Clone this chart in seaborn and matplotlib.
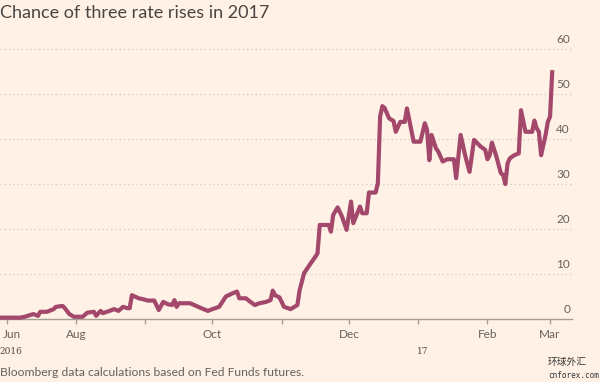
import matplotlib
matplotlib.use("Agg")
import matplotlib.pyplot as plt
import matplotlib.dates as mdates
import matplotlib.transforms as mtransforms
import pandas as pd
import seaborn as sns

# ---- data ----
dates = [
    "2016-06-28", "2016-07-07", "2016-07-09", "2016-07-13", "2016-07-15", "2016-07-16",
    "2016-07-19", "2016-07-20", "2016-07-22", "2016-07-23", "2016-07-26", "2016-07-27",
    "2016-07-29", "2016-07-31", "2016-08-04", "2016-08-06", "2016-08-09", "2016-08-10",
    "2016-08-12", "2016-08-13", "2016-08-16", "2016-08-18", "2016-08-20", "2016-08-22",
    "2016-08-24", "2016-08-25", "2016-08-26", "2016-08-29", "2016-08-31", "2016-09-02",
    "2016-09-05", "2016-09-07", "2016-09-09", "2016-09-11", "2016-09-13", "2016-09-14",
    "2016-09-15", "2016-09-16", "2016-09-21", "2016-09-27", "2016-09-29", "2016-10-01",
    "2016-10-04", "2016-10-07", "2016-10-10", "2016-10-12", "2016-10-13", "2016-10-16",
    "2016-10-18", "2016-10-20", "2016-10-22", "2016-10-25", "2016-10-27", "2016-10-28",
    "2016-10-29", "2016-10-31", "2016-11-02", "2016-11-05", "2016-11-08", "2016-11-09",
    "2016-11-11", "2016-11-14", "2016-11-16", "2016-11-17", "2016-11-18", "2016-11-22",
    "2016-11-23", "2016-11-24", "2016-11-26", "2016-11-28", "2016-11-30", "2016-12-02",
    "2016-12-03", "2016-12-06", "2016-12-07", "2016-12-09", "2016-12-10", "2016-12-13",
    "2016-12-14", "2016-12-15", "2016-12-16", "2016-12-17", "2016-12-19", "2016-12-21",
    "2016-12-22", "2016-12-24", "2016-12-26", "2016-12-27", "2016-12-30", "2017-01-02",
    "2017-01-04", "2017-01-05", "2017-01-06", "2017-01-07", "2017-01-09", "2017-01-10",
    "2017-01-12", "2017-01-14", "2017-01-17", "2017-01-18", "2017-01-20", "2017-01-22",
    "2017-01-24", "2017-01-26", "2017-01-29", "2017-01-31", "2017-02-01", "2017-02-02",
    "2017-02-03", "2017-02-05", "2017-02-07", "2017-02-08", "2017-02-09", "2017-02-10",
    "2017-02-11", "2017-02-13", "2017-02-15", "2017-02-16", "2017-02-18", "2017-02-21",
    "2017-02-22", "2017-02-23", "2017-02-24", "2017-02-25", "2017-02-27", "2017-02-28",
    "2017-03-01", "2017-03-02",
]
values = [
    0.3, 0.3, 0.5, 1.1, 0.7, 1.6,
    1.6, 1.8, 2.2, 2.7, 2.9, 2.4,
    1.1, 0.5, 0.5, 1.4, 1.6, 0.7,
    1.8, 1.3, 1.8, 2.2, 1.8, 2.7,
    2.4, 2.4, 5.3, 4.6, 4.4, 4.1,
    4.1, 2.0, 3.8, 3.3, 3.1, 4.2,
    2.7, 3.5, 3.5, 2.2, 1.8, 2.2,
    2.7, 5.0, 5.7, 6.1, 4.6, 4.6,
    3.8, 3.1, 3.5, 3.8, 4.2, 6.3,
    5.3, 4.8, 2.7, 2.2, 3.1, 6.4,
    10.2, 12.4, 13.8, 14.6, 20.9, 20.9,
    19.4, 23.1, 24.8, 22.7, 19.8, 26.1,
    21.3, 25.0, 23.5, 23.5, 28.1, 28.1,
    30.2, 45.0, 47.3, 46.9, 44.6, 44.0,
    41.6, 43.8, 43.8, 46.8, 39.4, 39.4,
    43.5, 42.0, 35.3, 40.9, 37.9, 37.2,
    35.0, 35.5, 35.5, 31.3, 40.9, 36.4,
    32.7, 39.8, 38.3, 37.6, 35.5, 36.4,
    39.2, 36.1, 32.4, 32.0, 30.0, 34.6,
    35.7, 36.4, 36.8, 46.4, 41.6, 41.6,
    44.1, 42.4, 41.6, 36.4, 40.9, 43.8,
    45.0, 55.3,
]
y_ticks = [0, 10, 20, 30, 40, 50, 60]
x_tick_dates = ["2016-07-01", "2016-08-01", "2016-09-01", "2016-10-01", "2016-11-01",
                "2016-12-01", "2017-01-01", "2017-02-01", "2017-03-01"]
x_tick_labels = ["", "Aug", "", "Oct", "", "Dec", "", "Feb", "Mar"]
first_label = "Jun"
year_labels = ["2016", "17"]
year_label_dates = ["2016-07-03", "2017-01-03"]
title = "Chance of three rate rises in 2017"
source = "Bloomberg data calculations based on Fed Funds futures."

# ---- style ----
BG = "#FFF1E5"
LINE = "#A3486B"
GRID = "#D9CFC5"
AXIS = "#A79D93"
TXT = "#66605C"
TITLE_C = "#4A4542"

sns.set_theme(style="white")
plt.rcParams["font.family"] = ["Lato", "DejaVu Sans"]

W, H = 600, 382
fig = plt.figure(figsize=(W / 100, H / 100), dpi=100, facecolor=BG)
ax = fig.add_axes([0, (H - 319) / H, 572 / W, (319 - 30) / H])
ax.set_facecolor(BG)

df = pd.DataFrame({"date": pd.to_datetime(dates), "value": values})
sns.lineplot(data=df, x="date", y="value", ax=ax, color=LINE, linewidth=3.0,
             estimator=None, zorder=5)
for ln in ax.lines:
    ln.set_clip_on(False)
    ln.set_solid_joinstyle("round")
    ln.set_solid_capstyle("butt")

x_start = mdates.date2num(pd.Timestamp("2016-06-28"))
ax.set_xlim(x_start, x_start + 572 / 2.236)
ax.set_ylim(0, (319 - 30) / 4.5)

# grid lines (dotted) and right-side labels
for v in y_ticks:
    if v > 0:
        ax.axhline(v, color=GRID, lw=0.9, ls=(0, (1.2, 2.2)), zorder=1)
ylab_tr = mtransforms.blended_transform_factory(ax.transAxes, ax.transData)
ylab_tr = ylab_tr + mtransforms.ScaledTranslation(-2 / 100, 4 / 100, fig.dpi_scale_trans)
for v in y_ticks:
    ax.text(1.0, v, str(v), transform=ylab_tr, ha="right", va="bottom",
            fontsize=8.5, color=TXT)

ax.set_yticks([])
ax.set_xlabel("")
ax.set_ylabel("")
for s in ["top", "left", "right"]:
    ax.spines[s].set_visible(False)
ax.spines["bottom"].set_color(AXIS)
ax.spines["bottom"].set_linewidth(1.0)

ax.set_xticks(mdates.date2num(pd.to_datetime(x_tick_dates)))
ax.set_xticklabels(x_tick_labels)
ax.tick_params(axis="x", length=3.6, width=1.0, color=AXIS, direction="out",
               labelsize=8.5, labelcolor=TXT, pad=3.5, bottom=True)

# first month label and year labels
bt = mtransforms.blended_transform_factory(ax.transData, fig.transFigure)
ax.text(x_start + 12 / 2.236, 1 - 334 / H, first_label, transform=bt, ha="center",
        va="center", fontsize=8.5, color=TXT)
for lab, d in zip(year_labels, year_label_dates):
    ax.text(mdates.date2num(pd.Timestamp(d)), 1 - 351 / H, lab, transform=bt,
            ha="center", va="center", fontsize=6.5, color="#4D4845",
            family=["DejaVu Serif"])

fig.text(0.0, 1 - 13 / H, title, ha="left", va="center", fontsize=13,
         color=TITLE_C, fontweight="normal")
fig.text(0.0, 1 - 372 / H, source, ha="left", va="center", fontsize=8.7, color=TXT)

# watermark of the reposting site
fig.text(548 / W, 1 - 362 / H, "环球外汇", ha="left", va="center", fontsize=7,
         color="#333333", family=["Noto Sans CJK SC", "DejaVu Sans"])
fig.text(548 / W, 1 - 376 / H, "cnforex.com", ha="left", va="center", fontsize=5.5,
         color="#333333", family=["DejaVu Sans Mono"])

fig.savefig("out.png", dpi=100, facecolor=BG)
